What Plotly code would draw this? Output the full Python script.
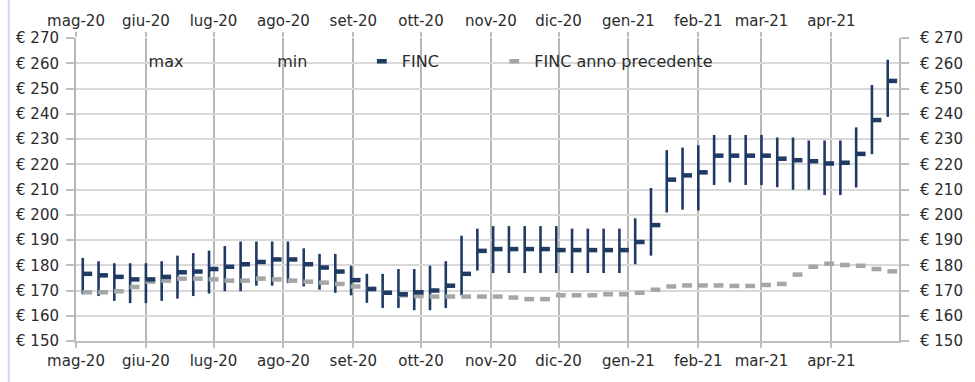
import pandas as pd
import plotly.graph_objects as go

# ---------------- data ----------------
week_start = "2020-05-04"
n_weeks = 52

finc_max = [182.9, 181.6, 180.8, 180.8, 180.8, 181.6, 183.8, 184.8, 185.8, 187.6,
            189.4, 189.4, 189.4, 189.4, 186.7, 184.5, 184.5, 179.8, 176.6, 176.6,
            178.5, 178.5, 179.8, 181.6, 191.7, 194.5, 195.5, 195.5, 195.5, 195.5,
            195.5, 194.5, 194.5, 194.5, 194.5, 198.6, 210.6, 225.6, 226.6, 227.5,
            231.6, 231.6, 231.6, 231.6, 230.6, 230.6, 229.4, 229.4, 229.4, 234.6,
            251.4, 261.4]

finc_min = [168.5, 167.8, 165.9, 165.0, 165.0, 165.9, 166.8, 167.8, 168.8, 169.7,
            169.7, 171.9, 171.9, 172.9, 171.6, 170.3, 169.1, 168.1, 165.1, 163.1,
            163.1, 162.2, 162.2, 163.1, 168.1, 177.9, 176.9, 176.9, 176.9, 176.9,
            176.9, 176.9, 176.9, 176.9, 176.9, 180.4, 183.8, 200.9, 202.0, 201.7,
            211.8, 212.8, 211.8, 211.8, 210.9, 209.9, 209.9, 207.8, 207.8, 210.8,
            224.0, 238.8]

finc = [176.6, 176.0, 175.4, 174.4, 174.4, 175.4, 177.2, 177.5, 178.5, 179.4,
        180.4, 181.3, 182.3, 182.3, 180.4, 179.1, 177.5, 174.1, 170.6, 169.1,
        168.5, 169.3, 170.0, 171.9, 176.6, 185.7, 186.4, 186.4, 186.4, 186.4,
        186.0, 186.0, 186.0, 186.0, 186.0, 189.2, 195.9, 213.9, 215.6, 216.8,
        223.4, 223.4, 223.4, 223.4, 222.2, 221.6, 221.2, 220.3, 220.6, 224.1,
        237.5, 253.0]

finc_prev = [169.3, 169.3, 169.7, 171.4, 173.5, 173.9, 174.7, 174.7, 174.4, 173.9,
             173.9, 174.7, 174.4, 173.9, 173.5, 173.1, 172.6, 171.6, 170.6, 169.1,
             168.1, 167.8, 167.6, 167.6, 167.6, 167.6, 167.6, 167.2, 166.6, 166.6,
             168.1, 168.1, 168.1, 168.5, 168.5, 169.1, 170.3, 171.6, 172.0, 172.0,
             172.0, 171.8, 171.8, 172.2, 172.6, 176.3, 179.4, 180.6, 180.1, 179.8,
             178.5, 177.6]

month_ticks = ["2020-05-01", "2020-06-01", "2020-07-01", "2020-08-01", "2020-09-01",
               "2020-10-01", "2020-11-01", "2020-12-01", "2021-01-01", "2021-02-01",
               "2021-03-01", "2021-04-01"]
month_labels = ["mag-20", "giu-20", "lug-20", "ago-20", "set-20", "ott-20",
                "nov-20", "dic-20", "gen-21", "feb-21", "mar-21", "apr-21"]
x_range = ["2020-05-01", "2021-05-01"]

y_ticks = [150, 160, 170, 180, 190, 200, 210, 220, 230, 240, 250, 260, 270]
y_labels = ["€ %d" % v for v in y_ticks]

# ---------------- styling ----------------
NAVY = "#1f3a63"
GREY = "#a6a6a6"
TXT = "#2b2b2b"
FONT = "DejaVu Sans"

weeks = pd.date_range(week_start, periods=n_weeks, freq="7D")
mark_x = weeks + pd.Timedelta(days=2)

fig = go.Figure()

# max series (invisible marks, legend only)
fig.add_trace(go.Scatter(
    x=weeks, y=finc_max, name="max", mode="markers",
    marker=dict(color="rgba(0,0,0,0)", size=1), hoverinfo="skip", legend="legend"))

# min series with high-low lines drawn as error bars up to max
fig.add_trace(go.Scatter(
    x=weeks, y=finc_min, name="min", mode="markers",
    marker=dict(color="rgba(0,0,0,0)", size=1), hoverinfo="skip",
    error_y=dict(type="data", symmetric=False,
                 array=[h - l for h, l in zip(finc_max, finc_min)],
                 arrayminus=[0] * n_weeks, color=NAVY, thickness=2.6, width=0),
    legend="legend2"))

fig.add_trace(go.Scatter(
    x=mark_x, y=finc_prev, name="FINC anno precedente", mode="markers",
    marker=dict(symbol="line-ew", size=7, line=dict(color=GREY, width=4.5)),
    legend="legend4"))

fig.add_trace(go.Scatter(
    x=mark_x, y=finc, name="FINC", mode="markers",
    marker=dict(symbol="line-ew", size=7, line=dict(color=NAVY, width=4.5)),
    legend="legend3"))

axis_font = dict(family=FONT, size=15, color=TXT)

fig.update_layout(
    width=975, height=382,
    margin=dict(l=76, r=67, t=36, b=28),
    paper_bgcolor="white", plot_bgcolor="white",
    font=dict(family=FONT, size=15, color=TXT),
    xaxis=dict(type="date", range=x_range, tickvals=month_ticks, ticktext=month_labels,
               showgrid=True, gridcolor="#b7b7b7", gridwidth=2,
               showline=True, linecolor="#bfbfbf", linewidth=1.5,
               ticks="outside", ticklen=5, tickcolor="#bfbfbf", tickwidth=1.5,
               tickfont=axis_font, zeroline=False, fixedrange=True),
    xaxis2=dict(type="date", range=x_range, tickvals=month_ticks, ticktext=month_labels,
                overlaying="x", side="top", showgrid=False, showline=False,
                ticks="outside", ticklen=5, tickcolor="#bfbfbf", tickwidth=1.5,
                tickfont=axis_font, zeroline=False),
    yaxis=dict(range=[150, 270], tickvals=y_ticks, ticktext=y_labels,
               showgrid=True, gridcolor="#d9d9d9", gridwidth=1.5,
               showline=True, linecolor="#b7b7b7", linewidth=2,
               ticks="outside", ticklen=8, tickcolor="#bfbfbf", tickwidth=1.5,
               ticklabelstandoff=4, tickfont=axis_font, zeroline=False),
    yaxis2=dict(range=[150, 270], tickvals=y_ticks, ticktext=y_labels,
                overlaying="y", side="right", showgrid=False,
                showline=True, linecolor="#b7b7b7", linewidth=2,
                ticks="outside", ticklen=8, tickcolor="#bfbfbf", tickwidth=1.5,
                ticklabelstandoff=8, tickfont=axis_font, zeroline=False),
    showlegend=True,
)

leg_common = dict(orientation="h", yanchor="middle", y=0.923, xanchor="left",
                  bgcolor="rgba(0,0,0,0)", font=dict(family=FONT, size=16, color=TXT))
fig.update_layout(
    legend=dict(x=0.0396, **leg_common),
    legend2=dict(x=0.1958, **leg_common),
    legend3=dict(x=0.3473, **leg_common),
    legend4=dict(x=0.5082, **leg_common),
)

# dummy anchor so the top x-axis and right y-axis are drawn
fig.add_trace(go.Scatter(x=[x_range[0]], y=[150], xaxis="x2", yaxis="y2",
                         mode="markers", marker=dict(opacity=0), showlegend=False,
                         hoverinfo="skip"))

fig.add_shape(type="line", xref="paper", yref="paper", x0=-0.0817, x1=-0.0817,
              y0=-0.2, y1=1.2, line=dict(color="#c9d8ec", width=2))

fig.write_html("out.html", config={"displayModeBar": False},
               post_script="document.body.style.margin='0';"
                           "document.body.style.overflow='hidden';")
